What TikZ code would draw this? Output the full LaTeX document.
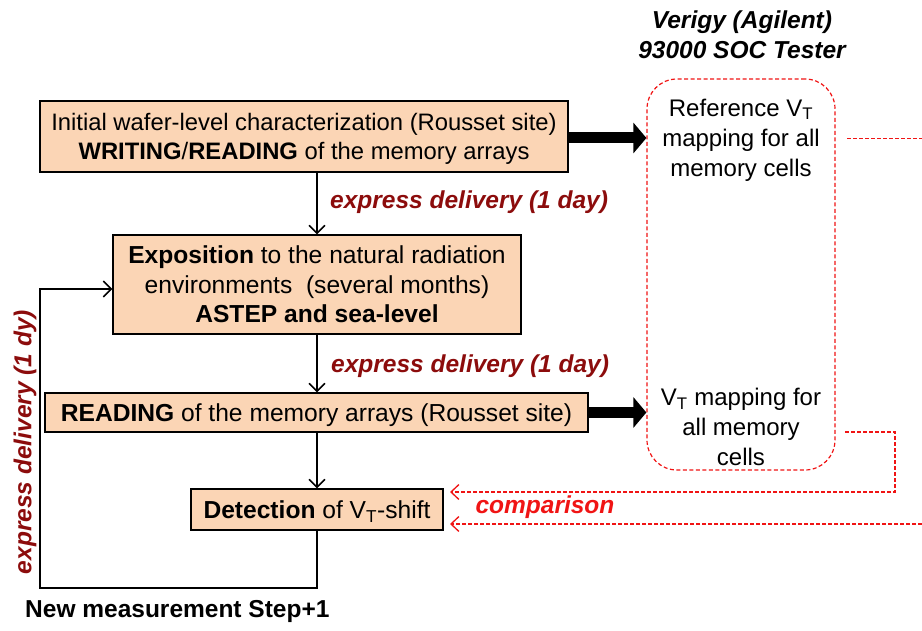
\documentclass[tikz,border=0pt]{standalone}
\usepackage{fontspec}
\setmainfont{Liberation Sans}
\usetikzlibrary{arrows.meta}
\definecolor{peach}{RGB}{251,213,181}
\definecolor{darkred}{RGB}{140,12,12}
\definecolor{cmpred}{RGB}{240,20,20}
\tikzset{
  box/.style={draw=black, line width=1.3pt, fill=peach, inner sep=0pt, align=center, text depth=0pt, font=\fontsize{24.6}{29.5}\selectfont},
  flow/.style={draw=black, line width=1.5pt, -{Straight Barb[length=8pt,width=16pt,line width=1.5pt]}},
  bigarrow/.style={line width=11pt, -{Triangle[length=13pt,width=30pt]}},
  dlabel/.style={text=darkred, font=\fontsize{24.5}{28}\selectfont\bfseries\itshape, inner sep=0pt},
  plain/.style={font=\fontsize{24}{30}\selectfont, inner sep=0pt, align=center},
  cmpline/.style={draw=cmpred, line width=1.1pt, dash pattern=on 4pt off 2pt},
  cmparrow/.style={cmpline, -{Straight Barb[length=8pt,width=15pt,line width=1.3pt]}},
}
\begin{document}
\begin{tikzpicture}[x=1pt,y=-1pt]
\useasboundingbox (0,0) rectangle (922,631);
% title
\node[font=\fontsize{24.5}{28}\selectfont\bfseries\itshape, inner sep=0pt] (t1) at (742,22) {Verigy (Agilent)};
\node[font=\fontsize{24.5}{28}\selectfont\bfseries\itshape, inner sep=0pt] (t2) at (742,50) {93000 SOC Tester};
% tester box
\node[draw=cmpred, line width=1.2pt, dash pattern=on 4pt off 2.5pt, rounded corners=30pt, minimum width=188pt, minimum height=391pt, inner sep=0pt] (tester) at (741,274.5) {};
\node[plain] (ref) at (741,140) {Reference V\textsubscript{T}\\mapping for all\\memory cells};
\node[plain] (map) at (741,427) {V\textsubscript{T} mapping for\\all memory\\cells};
% boxes
\node[box, font=\fontsize{23.8}{28.5}\selectfont, minimum width=528pt, minimum height=71pt] (b1) at (304,136.5) {Initial wafer-level characterization (Rousset site)\\\textbf{WRITING}/\textbf{READING} of the memory arrays};
\node[box, minimum width=408pt, minimum height=99pt] (b2) at (317,284.5) {\textbf{Exposition} to the natural radiation\\environments~ (several months)\\\textbf{ASTEP and sea-level}};
\node[box, minimum width=543pt, minimum height=39pt] (b3) at (316.5,412.5) {\textbf{READING} of the memory arrays (Rousset site)};
\node[box, minimum width=252pt, minimum height=41pt] (b4) at (317,509.5) {\textbf{Detection} of V\textsubscript{T}-shift};
% flow arrows
\draw[flow] (b1.south -| 317,0) -- (b2.north -| 317,0);
\draw[flow] (b2.south -| 317,0) -- (b3.north -| 317,0);
\draw[flow] (b3.south -| 317,0) -- (b4.north);
\coordinate (c1) at (317,588);
\coordinate (c2) at (40,588);
\coordinate (c3) at (40,289);
\draw[flow] (b4.south) -- (c1) -- (c2) -- (c3) -- (b2.west |- c3);
% labels
\node[dlabel, anchor=west] (l1) at (330,202) {express delivery (1 day)};
\node[dlabel, anchor=west] (l2) at (331,366) {express delivery (1 day)};
\node[dlabel, rotate=90] (l3) at (25,442) {express delivery (1 dy)};
\node[font=\fontsize{24.5}{28}\selectfont\bfseries, inner sep=0pt, anchor=west] (nm) at (25,611) {New measurement Step+1};
% big arrows
\draw[bigarrow] (b1.east |- 0,138) -- (tester.west |- 0,138);
\draw[bigarrow] (b3.east) -- (tester.west |- b3.east);
% comparison lines
\coordinate (r0) at (847,138.5);
\coordinate (r1) at (922,138.5);
\draw[cmpline] (r0) -- (r1);
\coordinate (d0) at (845,432);
\coordinate (d1) at (895,432);
\coordinate (d2) at (895,492);
\coordinate (a1) at (450,492);
\draw[cmparrow] (d0) -- (d1) -- (d2) -- (a1);
\coordinate (r2) at (922,524);
\coordinate (a2) at (450,524);
\draw[cmparrow] (r2) -- (a2);
\node[text=cmpred, font=\fontsize{24.5}{28}\selectfont\bfseries\itshape, inner sep=0pt] (cmp) at (545,507) {comparison};
\end{tikzpicture}
\end{document}
